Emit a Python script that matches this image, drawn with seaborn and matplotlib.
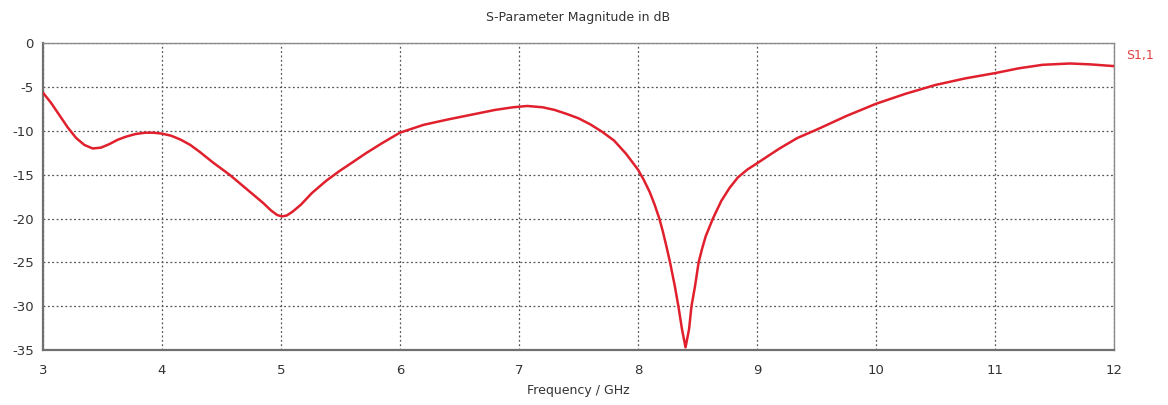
import matplotlib
matplotlib.use("Agg")
import matplotlib.pyplot as plt
import seaborn as sns
import pandas as pd

freq_ghz = [3.00, 3.07, 3.14, 3.21, 3.28, 3.35, 3.42, 3.49, 3.56, 3.63,
            3.70, 3.78, 3.86, 3.93, 4.00, 4.08, 4.16, 4.24, 4.32, 4.43,
            4.57, 4.71, 4.85, 4.92, 4.97, 5.01, 5.05, 5.10, 5.17, 5.26,
            5.38, 5.49, 5.60, 5.72, 5.85, 6.00, 6.20, 6.40, 6.60, 6.80,
            6.95, 7.07, 7.20, 7.30, 7.40, 7.50, 7.60, 7.70, 7.80, 7.90,
            8.00, 8.05, 8.10, 8.14, 8.18, 8.21, 8.24, 8.27, 8.31,
            8.34, 8.37, 8.40, 8.43, 8.45, 8.48, 8.51, 8.54, 8.57, 8.60,
            8.63, 8.70, 8.77, 8.84, 8.92, 9.00, 9.10, 9.19, 9.34, 9.51,
            9.75, 10.00, 10.25, 10.50, 10.75, 11.00, 11.20, 11.40, 11.63,
            11.80, 12.00]
s11_db = [-5.6, -6.8, -8.2, -9.6, -10.8, -11.6, -12.0, -11.9, -11.5, -11.0,
          -10.65, -10.35, -10.2, -10.2, -10.3, -10.55, -11.0, -11.6, -12.4, -13.6,
          -15.0, -16.6, -18.2, -19.1, -19.6, -19.75, -19.65, -19.2, -18.4, -17.1,
          -15.7, -14.6, -13.6, -12.5, -11.4, -10.2, -9.3, -8.7, -8.15, -7.6,
          -7.3, -7.15, -7.3, -7.6, -8.05, -8.55, -9.25, -10.1, -11.1, -12.6,
          -14.4, -15.6, -17.0, -18.4, -20.0, -21.5, -23.2, -25.0, -27.7,
          -30.0, -32.6, -34.7, -32.6, -30.0, -27.7, -25.0, -23.4, -22.0, -21.0,
          -20.0, -18.0, -16.5, -15.3, -14.4, -13.7, -12.8, -12.0, -10.8, -9.8,
          -8.3, -6.9, -5.75, -4.75, -4.0, -3.4, -2.85, -2.45, -2.3,
          -2.4, -2.6]
x_ticks = [3, 4, 5, 6, 7, 8, 9, 10, 11, 12]
y_ticks = [0, -5, -10, -15, -20, -25, -30, -35]
series_label = "S1,1"
title = "S-Parameter Magnitude in dB"
x_label = "Frequency / GHz"

sns.set_style("white")
plt.rcParams["font.family"] = ["DejaVu Sans"]
plt.rcParams["axes.unicode_minus"] = False

df = pd.DataFrame({"f": freq_ghz, "s": s11_db})

fig = plt.figure(figsize=(11.68, 4.05), dpi=100)
ax = fig.add_axes([0.0366, 0.1358, 0.9172, 0.7572])

sns.lineplot(data=df, x="f", y="s", ax=ax, color="#e0202c", linewidth=1.8,
             zorder=5, legend=False)

ax.set_xlim(3, 12)
ax.set_ylim(-35, 0)
ax.set_xticks(x_ticks)
ax.set_yticks(y_ticks)
ax.set_xticklabels([str(t) for t in x_ticks])
ax.set_yticklabels([str(t) for t in y_ticks])
ax.grid(True, color="#555555", linestyle=(0, (1.5, 2.0)), linewidth=0.9)
ax.tick_params(axis="both", labelsize=9.5, colors="#333333", length=3,
               width=1, direction="out")
ax.tick_params(axis="x", pad=7)

for side in ["left", "bottom"]:
    ax.spines[side].set_color("#707070")
    ax.spines[side].set_linewidth(1.6)
for side in ["top", "right"]:
    ax.spines[side].set_color("#8a8a8a")
    ax.spines[side].set_linewidth(1.0)
    ax.spines[side].set_visible(True)

ax.set_xlabel(x_label, fontsize=9, color="#333333", labelpad=5)
ax.set_ylabel("")
ax.set_title(title, fontsize=9, color="#333333", pad=16)

fig.text(0.976, 0.864, series_label, color="#e04040", fontsize=9,
         ha="center", va="center")

fig.savefig("out.png", dpi=100, facecolor="white")
